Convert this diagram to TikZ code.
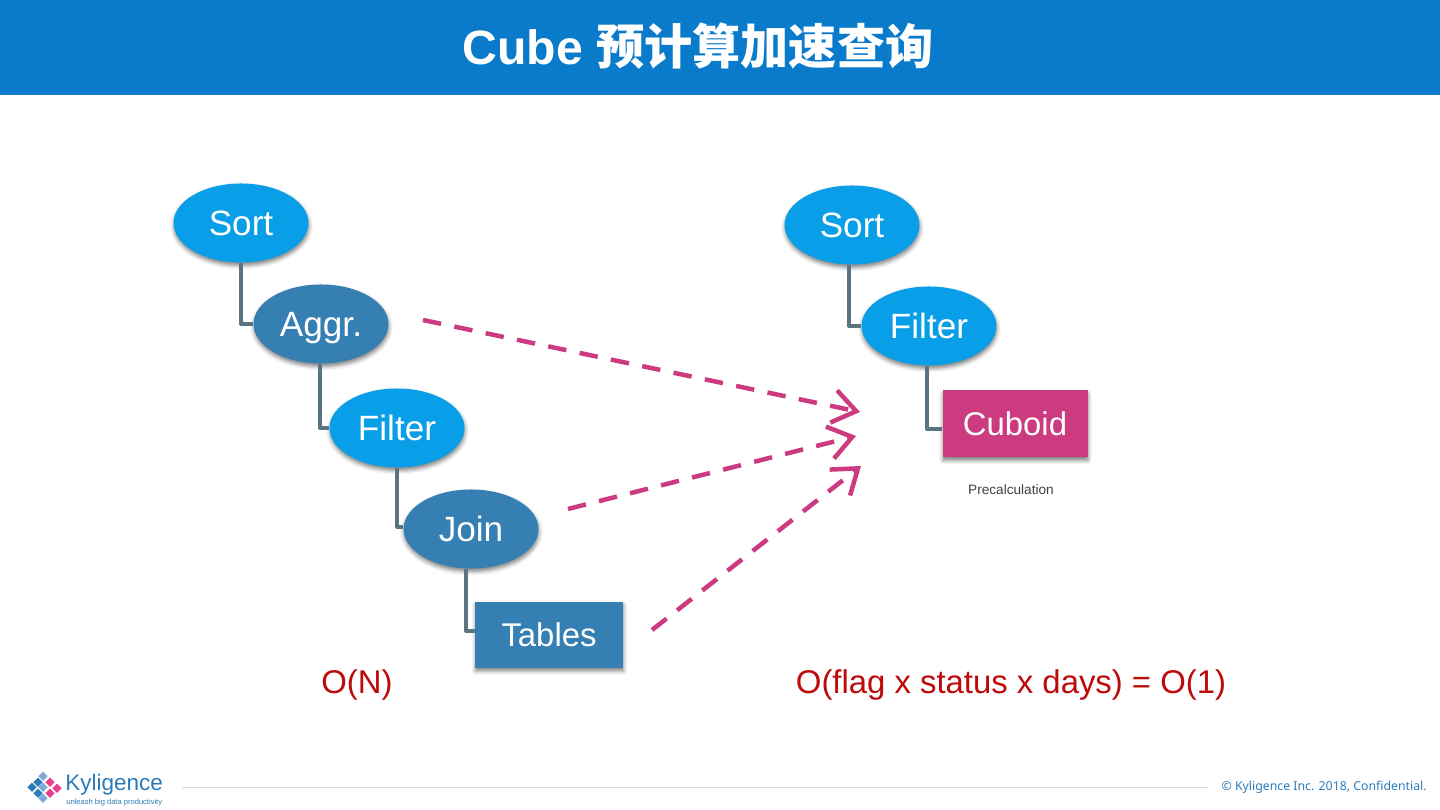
\documentclass[tikz,border=0pt]{standalone}
\usepackage{fontspec}
\setmainfont{Liberation Sans}
\newfontfamily\cjk{Noto Sans CJK SC}
\newfontfamily\footfont{Noto Sans}
\usetikzlibrary{arrows.meta,positioning,shapes.geometric,shadows.blur,calc}

\definecolor{headblue}{HTML}{0A7BCB}
\definecolor{lightblue}{HTML}{089EE8}
\definecolor{darkblue}{HTML}{357FB2}
\definecolor{cubepink}{HTML}{CC3A80}
\definecolor{linkgray}{HTML}{5A7482}
\definecolor{costred}{HTML}{BE0A0A}
\definecolor{logoblue}{HTML}{2A7CB8}
\definecolor{logolight}{HTML}{7FA9D6}
\definecolor{logopink}{HTML}{E83E8C}

\begin{document}
\begin{tikzpicture}[
  node distance=2cm, on grid,
  soft/.style={blur shadow={shadow xshift=0.01cm, shadow yshift=-0.06cm, shadow blur radius=0.08cm, shadow opacity=50}},
  oval/.style={ellipse, soft, minimum width=2.7cm, minimum height=1.58cm, inner sep=0pt, text=white, text depth=0pt, font=\fontsize{20}{24}\selectfont},
  lightoval/.style={oval, fill=lightblue},
  darkoval/.style={oval, fill=darkblue},
  block/.style={rectangle, soft, inner sep=0pt, text=white, font=\fontsize{18.7}{24}\selectfont},
  link/.style={draw=linkgray, line width=0.08cm, line join=round},
  jump/.style={->, >={Straight Barb[length=0.46cm, width=0.66cm]}, draw=cubepink, line width=0.09cm, dash pattern=on 0.37cm off 0.27cm},
  cost/.style={text=costred, font=\fontsize{18.7}{24}\selectfont},
  chip/.style={diamond, minimum size=0.19cm, inner sep=0pt, fill=#1}
]
\useasboundingbox (0,0) rectangle (28.8,16.2);

% header
\fill[headblue] (0,14.3) rectangle (28.8,16.2);
\node[text=white, font=\fontsize{27.4}{32}\bfseries] (title) at (13.96,15.28) {Cube {\cjk 预计算加速查询}};

% left plan
\node[lightoval] (sortA) at (4.82,11.74) {Sort};
\node[darkoval, below right=2.02cm and 1.6cm of sortA] (aggrA) {Aggr.};
\node[lightoval, below right=2.08cm and 1.52cm of aggrA] (filterA) {Filter};
\node[darkoval, below right=2.02cm and 1.48cm of filterA] (joinA) {Join};
\node[block, fill=darkblue, minimum width=2.96cm, minimum height=1.32cm, below right=2.12cm and 1.56cm of joinA] (tablesA) {Tables};

% right plan
\node[lightoval] (sortB) at (17.04,11.7) {Sort};
\node[lightoval, below right=2.02cm and 1.54cm of sortB] (filterB) {Filter};
\node[block, fill=cubepink, minimum width=2.9cm, minimum height=1.34cm, below right=1.96cm and 1.72cm of filterB] (cuboidB) {Cuboid};
\node[below=1.32cm of cuboidB, xshift=-0.08cm, text=black!75, font=\fontsize{7.75}{9}\selectfont] (precalc) {Precalculation};

\draw[link] (sortA.south) |- (aggrA.west);
\draw[link] ([xshift=-0.02cm]aggrA.south) |- (filterA.west);
\draw[link] (filterA.south) |- ([yshift=0.04cm]joinA.west);
\draw[link] ([xshift=-0.1cm]joinA.south) |- ([yshift=0.08cm]tablesA.west);
\draw[link] ([xshift=-0.06cm]sortB.south) |- (filterB.west);
\draw[link] ([xshift=-0.04cm]filterB.south) |- ([yshift=-0.1cm]cuboidB.west);

% dashed arrows
\coordinate (fromAggr) at (8.46,9.8);
\coordinate (toAggr) at (17.2,7.96);
\coordinate (fromJoin) at (11.36,6.02);
\coordinate (toJoin) at (17.12,7.48);
\coordinate (fromTables) at (13.04,3.6);
\coordinate (toTables) at (17.22,6.88);
\draw[jump] (fromAggr) -- (toAggr);
\draw[jump] (fromJoin) -- (toJoin);
\draw[jump] (fromTables) -- (toTables);

% costs
\node[cost] (costA) at (7.14,2.5) {O(N)};
\node[cost] (costB) at (20.22,2.5) {O(flag x status x days) = O(1)};

% footer
\foreach \x/\y/\c [count=\i] in {43/776/logolight,38/782/logoblue,32/787/logoblue,43/787/logolight,38/793/logoblue,43/798/logolight,50/782/logopink,57/788/logopink,50/793/logopink}
  \node[chip=\c] (chip\i) at (0.02*\x,16.2-0.02*\y) {};
\node[anchor=west, text=logoblue, inner sep=0pt, font=\fontsize{12.8}{14}\selectfont] (logoname) at (1.3,0.5) {Kyligence};
\node[anchor=west, text=logoblue, inner sep=0pt, font=\fontsize{4.3}{5}\selectfont] (logotag) at (1.32,0.14) {unleash big data productivity};
\coordinate (ruleL) at (3.64,0.45);
\coordinate (ruleR) at (24.16,0.45);
\draw[black!15, line width=0.02cm] (ruleL) -- (ruleR);
\node[anchor=east, text=logoblue, inner sep=0pt, font=\footfont\fontsize{7}{9}\selectfont] (copy) at (28.54,0.45) {© Kyligence Inc. 2018, Confidential.};
\end{tikzpicture}
\end{document}
